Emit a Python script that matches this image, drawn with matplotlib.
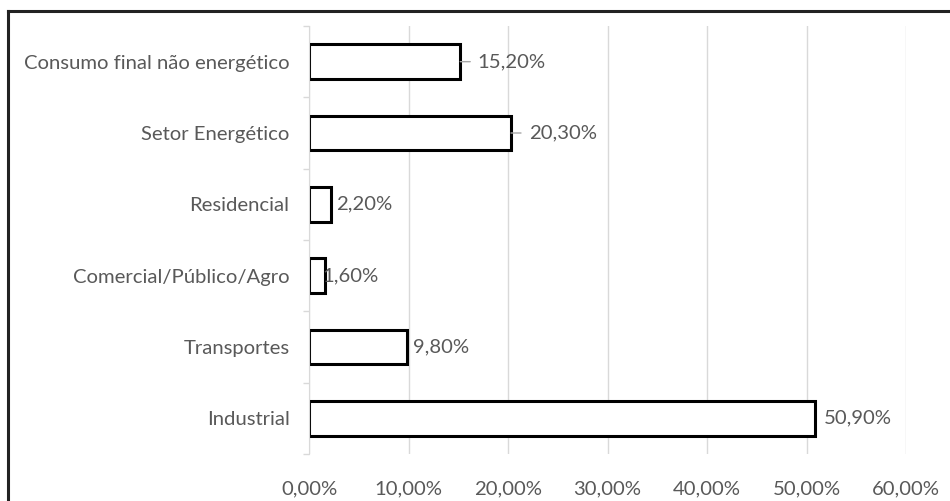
import matplotlib.pyplot as plt
from matplotlib.lines import Line2D
from matplotlib.ticker import FixedLocator

# setores e participacao (%)
setores = ['Consumo final não energético', 'Setor Energético', 'Residencial',
           'Comercial/Público/Agro', 'Transportes', 'Industrial']
valores = [15.2, 20.3, 2.2, 1.6, 9.8, 50.9]
rotulos = ['15,20%', '20,30%', '2,20%', '1,60%', '9,80%', '50,90%']
xticks = [0, 10, 20, 30, 40, 50, 60]
xticklabels = ['0,00%', '10,00%', '20,00%', '30,00%', '40,00%', '50,00%', '60,00%']

# label offsets in pixels (layout only) and which labels get a leader line
offsets = [17, 18, 5, -3, 6, 8]
leader = [True, True, False, False, False, False]

plt.rcParams['font.family'] = ['Lato', 'DejaVu Sans']
grey = '#595959'
fs = 14.6

fig = plt.figure(figsize=(9.5, 5.01), dpi=100)
ax = fig.add_axes([309/950, 1 - 454/501, 597/950, 428/501])

pos = list(range(len(setores)))
ax.barh(pos, valores, height=0.49, color='white', edgecolor='black', linewidth=2.2, zorder=3)

ax.set_xlim(0, 60)
ax.set_ylim(len(setores) - 0.5, -0.5)

for i, (v, r) in enumerate(zip(valores, rotulos)):
    ax.annotate(r, (v, i), xytext=(offsets[i] * 0.72, 0), textcoords='offset points',
                va='center', ha='left', fontsize=fs, color=grey, zorder=5)
    if leader[i]:
        ax.annotate('', (v, i), xytext=(10 * 0.72, 0), textcoords='offset points',
                    arrowprops=dict(arrowstyle='-', color='#a6a6a6', lw=1,
                                    shrinkA=0, shrinkB=0))

ax.set_yticks(pos)
ax.set_yticklabels(setores, fontsize=fs, color=grey)
ax.yaxis.set_minor_locator(FixedLocator([p - 0.5 for p in pos] + [pos[-1] + 0.5]))
ax.tick_params(axis='y', which='major', length=0, pad=14)
ax.tick_params(axis='y', which='minor', length=4, color='#d9d9d9', width=1)

ax.set_xticks(xticks)
ax.set_xticklabels(xticklabels, fontsize=fs, color=grey)
ax.tick_params(axis='x', length=0, pad=19)

ax.grid(axis='x', color='#d9d9d9', linewidth=1, zorder=0)
for s in ['top', 'right', 'bottom']:
    ax.spines[s].set_visible(False)
ax.spines['left'].set_color('#d9d9d9')
ax.spines['left'].set_zorder(4)

# outer frame (only top and left edges fall inside the picture)
fig.add_artist(Line2D([8/950, 1], [1 - 11/501, 1 - 11/501], color='#222222', lw=2.2,
                      transform=fig.transFigure))
fig.add_artist(Line2D([8/950, 8/950], [0, 1 - 11/501], color='#222222', lw=2.2,
                      transform=fig.transFigure))

fig.savefig('out.png', dpi=100)
